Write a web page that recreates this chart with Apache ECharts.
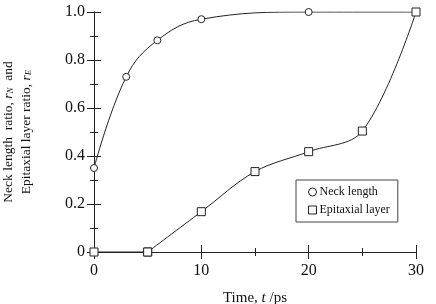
<!DOCTYPE html>
<html>
<head>
    <meta charset="utf-8">
    <script src="https://cdn.jsdelivr.net/npm/echarts@6/dist/echarts.min.js"></script>
</head>
<body>
    <style>
        html, body { width: 100%; height: 100%; margin: 0; background: #fff; }
    </style>
    <div id="main" style="width: 436px;height:304px;"></div>
    <script>
        // time in ps, ratios
        var neckTime = [0, 3, 5.9, 10, 20, 30];
        var neckRatio = [0.35, 0.73, 0.882, 0.97, 1.0, 1.0];
        var epiTime = [0, 5, 10, 15, 20, 25, 30];
        var epiRatio = [0, 0, 0.168, 0.335, 0.418, 0.504, 1.0];
        var seriesNames = ['Neck length', 'Epitaxial layer'];

        var font = 'Liberation Serif';
        var ink = '#222';

        function pairs(xs, ys) {
            return xs.map(function (x, i) { return [x, ys[i]]; });
        }

        var chart = echarts.init(document.getElementById('main'));

        var tickStyle = { inside: true, length: 7, lineStyle: { color: ink, width: 1 } };
        var minorStyle = { show: true, splitNumber: 2, length: 4, lineStyle: { color: ink, width: 1 } };
        var markStyle = { color: '#fff', borderColor: ink, borderWidth: 1 };

        var epiPoints = pairs(epiTime, epiRatio);

        var option = {
            animation: false,
            textStyle: { fontFamily: font },
            grid: { left: 94, right: 20, top: 12, bottom: 52, containLabel: false, outerBoundsMode: 'none' },
            legend: {
                orient: 'vertical',
                left: 296,
                top: 180,
                width: 96,
                padding: [6, 8, 6, 12],
                itemGap: 6,
                itemWidth: 8,
                itemHeight: 8,
                borderColor: '#444',
                borderWidth: 1,
                textStyle: { fontFamily: font, fontSize: 12, color: '#111', padding: [0, 0, 0, -2] },
                itemStyle: markStyle,
                data: [
                    { name: seriesNames[0], icon: 'circle' },
                    { name: seriesNames[1], icon: 'rect' }
                ]
            },
            xAxis: [{
                type: 'value', min: 0, max: 30, interval: 10,
                axisLine: { lineStyle: { color: ink } },
                axisTick: tickStyle,
                minorTick: minorStyle,
                splitLine: { show: false },
                axisLabel: { color: '#111', fontSize: 16, margin: 11 },
                name: '{n|Time, }{i|t}{n| /ps}',
                nameLocation: 'middle',
                nameGap: 39,
                nameTextStyle: {
                    rich: {
                        n: { fontFamily: font, fontSize: 15, color: '#111' },
                        i: { fontFamily: font, fontSize: 15, color: '#111', fontStyle: 'italic' }
                    }
                }
            }, {
                type: 'value', min: 0, max: 30, interval: 10, position: 'top',
                axisLine: { lineStyle: { color: ink } },
                axisTick: tickStyle,
                minorTick: minorStyle,
                splitLine: { show: false },
                axisLabel: { show: false }
            }],
            yAxis: [{
                type: 'value', min: 0, max: 1, interval: 0.2,
                axisLine: { show: true, lineStyle: { color: ink } },
                axisTick: tickStyle,
                minorTick: minorStyle,
                splitLine: { show: false },
                axisLabel: {
                    color: '#111', fontSize: 16, margin: 9,
                    formatter: function (v) { return v === 0 ? '0' : v.toFixed(1); }
                },
                name: '{n|Neck length  ratio, }{i|r}{s|N}{n|  and}\n{n|Epitaxial layer ratio, }{i|r}{s|E}',
                nameLocation: 'middle',
                nameRotate: 90,
                nameGap: 59,
                nameTextStyle: {
                    lineHeight: 18,
                    rich: {
                        n: { fontFamily: font, fontSize: 13.5, color: '#111', lineHeight: 18 },
                        i: { fontFamily: font, fontSize: 13.5, color: '#111', fontStyle: 'italic', lineHeight: 18 },
                        s: { fontFamily: font, fontSize: 9, color: '#111', fontStyle: 'italic', padding: [5, 0, 0, 0], lineHeight: 18 }
                    }
                }
            }, {
                type: 'value', min: 0, max: 1, interval: 0.2, position: 'right',
                axisLine: { show: true, lineStyle: { color: ink } },
                axisTick: tickStyle,
                minorTick: minorStyle,
                splitLine: { show: false },
                axisLabel: { show: false }
            }],
            series: [{
                name: seriesNames[0],
                type: 'line',
                smooth: 0.4,
                data: pairs(neckTime, neckRatio),
                symbol: 'circle',
                symbolSize: 7,
                lineStyle: { color: ink, width: 1 },
                itemStyle: markStyle,
                z: 3
            }, {
                // flat start along the axis, kept straight
                name: seriesNames[1],
                type: 'line',
                data: epiPoints.slice(0, 2),
                symbol: 'rect',
                symbolSize: 8,
                lineStyle: { color: ink, width: 1 },
                itemStyle: markStyle,
                z: 4
            }, {
                name: seriesNames[1],
                type: 'line',
                smooth: 0.35,
                data: epiPoints.slice(1),
                symbol: 'rect',
                symbolSize: 8,
                lineStyle: { color: ink, width: 1 },
                itemStyle: markStyle,
                z: 4
            }]
        };
        chart.setOption(option);
    </script>
</body>
</html>
